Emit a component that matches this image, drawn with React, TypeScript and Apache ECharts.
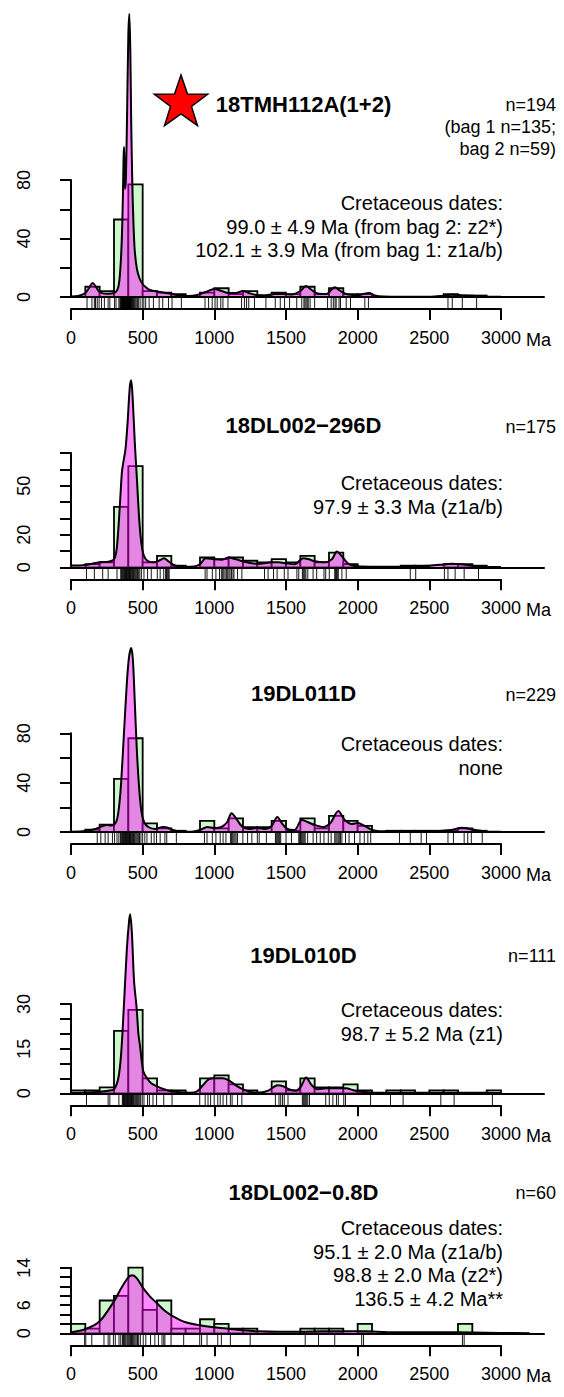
import React, { useEffect, useRef } from 'react';
import * as echarts from 'echarts';

// ---------------- DATA ----------------
const titles = ['18TMH112A(1+2)', '18DL002\u2212296D', '19DL011D', '19DL010D', '18DL002\u22120.8D'];
const nLabels = [['n=194', '(bag 1 n=135;', 'bag 2 n=59)'], ['n=175'], ['n=229'], ['n=111'], ['n=60']];
const cretaceous = [
  ['Cretaceous dates:', '99.0 \u00b1 4.9 Ma (from bag 2: z2*)', '102.1 \u00b1 3.9 Ma (from bag 1: z1a/b)'],
  ['Cretaceous dates:', '97.9 \u00b1 3.3 Ma (z1a/b)'],
  ['Cretaceous dates:', 'none'],
  ['Cretaceous dates:', '98.7 \u00b1 5.2 Ma (z1)'],
  ['Cretaceous dates:', '95.1 \u00b1 2.0 Ma (z1a/b)', '98.8 \u00b1 2.0 Ma (z2*)', '136.5 \u00b1 4.2 Ma**'],
];
const xTickLabels = ['0', '500', '1000', '1500', '2000', '2500', '3000'];
const yAxisMax = [80, 70, 80, 30, 14];
const yTickStep = [20, 10, 20, 5, 2];
const yLabels = [[0, 40, 80], [0, 20, 50], [0, 40, 80], [0, 15, 30], [0, 6, 14]];

// histogram counts per 100 Ma bin, starting at 0 Ma
const hist1 = [0, 7, 4, 53, 77, 4, 3, 2, 0, 3, 6, 2, 4, 1, 3, 2, 7, 2, 6, 2, 2, 0, 0, 0, 0, 0, 2, 1, 1];
const hist2 = [0, 2, 3, 37, 62, 3, 7, 1, 0, 6, 5, 6, 4, 3, 5, 3, 7, 3, 9, 2, 0, 0, 0, 1, 1, 0, 2, 2, 1];
const hist3 = [0, 2, 6, 43, 76, 7, 3, 1, 0, 9, 3, 11, 4, 4, 9, 1, 11, 3, 13, 9, 5, 0, 1, 1, 1, 1, 1, 3, 1];
const hist4 = [1, 1, 2, 21, 28, 5, 1, 1, 0, 5, 6, 3, 1, 0, 4, 1, 5, 2, 2, 3, 1, 0, 1, 1, 0, 1, 1, 0, 0, 1];
const hist5 = [2, 1, 7, 8, 14, 5, 7, 1, 1, 3, 2, 1, 1, 0, 0, 0, 1, 1, 1, 0, 2, 0, 0, 0, 0, 0, 0, 2];

// kernel density estimates: [age Ma, relative density]
const kde1 = [[0, 0.5], [50, 1], [100, 4], [130, 10], [150, 14], [175, 10], [200, 5], [250, 3.3], [300, 4], [330, 10], [345, 30], [355, 60], [362, 100], [367, 140], [370, 150], [373, 130], [377, 108], [383, 118], [392, 190], [400, 262], [407, 283], [414, 245], [420, 175], [428, 112], [436, 72], [445, 46], [460, 28], [480, 18], [500, 13], [520, 10], [550, 7], [620, 5], [700, 3], [760, 1.5], [820, 1], [880, 2], [940, 5], [1000, 8], [1050, 6], [1100, 4], [1150, 4], [1200, 6], [1240, 4], [1290, 2], [1350, 1.5], [1420, 3], [1480, 3], [1540, 2.5], [1600, 6], [1640, 11], [1680, 7], [1720, 3.5], [1780, 3], [1840, 9.7], [1880, 6], [1920, 3], [1960, 2], [2000, 1.5], [2040, 3], [2080, 4], [2120, 1.5], [2180, 0.5], [2300, 0.3], [2500, 0.3], [2580, 1], [2650, 2.3], [2720, 1.8], [2800, 1], [2880, 0.5], [3000, 0.2]];
const kde2 = [[0, 1.7], [100, 2.3], [200, 5], [260, 5.5], [300, 8], [320, 20], [340, 60], [355, 95], [365, 105], [380, 118], [395, 145], [410, 180], [420, 187], [430, 170], [445, 125], [460, 88], [475, 50], [490, 25], [510, 11], [540, 6], [580, 5], [620, 7], [650, 9], [680, 6], [710, 3], [750, 1], [800, 0.5], [860, 0.8], [900, 3], [940, 9], [1000, 8], [1050, 7.5], [1100, 9.7], [1150, 8], [1200, 6], [1260, 4], [1320, 3.5], [1400, 5], [1450, 5], [1500, 4], [1560, 3], [1620, 9], [1660, 8], [1700, 6], [1770, 5], [1820, 8], [1855, 15.7], [1890, 11], [1930, 4], [1970, 1.5], [2020, 0.7], [2200, 0.5], [2400, 0.7], [2500, 1.5], [2600, 2.8], [2650, 3.5], [2720, 3], [2800, 1.5], [2880, 0.6], [3000, 0.2]];
const kde3 = [[0, 0.3], [100, 1], [170, 3], [220, 6], [250, 7], [280, 6.5], [300, 7], [320, 12], [335, 25], [350, 50], [370, 100], [390, 150], [405, 175], [420, 184], [432, 172], [445, 130], [460, 80], [475, 45], [490, 22], [510, 10], [540, 5], [590, 3], [640, 5], [670, 4.5], [710, 2], [760, 0.5], [840, 0.3], [900, 2], [950, 5], [1000, 4], [1050, 5], [1090, 10], [1120, 18.7], [1150, 14], [1190, 6], [1240, 3], [1300, 4], [1360, 3], [1400, 6], [1440, 15], [1470, 9], [1510, 3], [1560, 2], [1610, 12], [1650, 10], [1700, 7], [1760, 5], [1810, 9], [1865, 21], [1910, 12], [1960, 8], [2000, 9], [2050, 6], [2100, 2], [2150, 0.8], [2300, 0.8], [2500, 0.8], [2650, 2], [2730, 4.3], [2800, 2.5], [2880, 0.6], [3000, 0.2]];
const kde4 = [[0, 0.5], [100, 0.7], [200, 1.5], [260, 2.5], [300, 4], [330, 15], [350, 40], [370, 90], [390, 145], [405, 172], [413, 179], [425, 160], [440, 112], [458, 85], [470, 60], [482, 47], [504, 22], [530, 15], [560, 10], [600, 7], [650, 4], [700, 2], [760, 1], [830, 0.5], [880, 2], [920, 8], [960, 14], [1000, 15], [1060, 15], [1100, 13], [1150, 8], [1200, 4], [1260, 1], [1320, 0.8], [1380, 3], [1440, 8], [1480, 7], [1530, 3.5], [1570, 2.5], [1605, 7], [1640, 15.7], [1680, 8], [1720, 4], [1780, 5], [1850, 5], [1920, 5], [1970, 3], [2030, 1.5], [2100, 0.7], [2300, 0.6], [2500, 0.6], [2700, 0.5], [2900, 0.5], [3000, 0.2]];
const kde5 = [[0, 1], [100, 4], [200, 12], [300, 32], [350, 45], [400, 56], [428, 58], [460, 55], [500, 46], [550, 37], [600, 30], [650, 23], [700, 18], [800, 11], [900, 8], [1000, 6], [1100, 4.5], [1200, 3], [1300, 2], [1450, 1.5], [1600, 1.5], [1750, 2], [1900, 2], [2050, 2], [2200, 1.3], [2400, 1], [2600, 1], [2800, 0.8], [3000, 0.4], [3200, 0]];

// individual dates (rug)
const rug1 = [112, 146, 163, 171, 183, 196, 213, 233, 259, 271, 304, 314, 334, 341, 346, 350, 353, 356, 359, 362, 364, 366, 368, 370, 372, 374, 377, 380, 383, 386, 389, 392, 394, 396, 398, 400, 402, 404, 406, 408, 410, 412, 415, 418, 421, 424, 428, 432, 437, 442, 448, 455, 463, 470, 482, 497, 508, 521, 545, 575, 615, 640, 680, 705, 770, 935, 960, 985, 1005, 1020, 1045, 1060, 1095, 1190, 1210, 1225, 1240, 1280, 1360, 1425, 1460, 1490, 1525, 1575, 1610, 1625, 1632, 1640, 1648, 1655, 1668, 1700, 1790, 1815, 1830, 1842, 1850, 1870, 1880, 1920, 1950, 2050, 2075, 2630, 2660, 2730, 2830];
const rug2 = [108, 163, 221, 259, 321, 347, 352, 358, 363, 368, 372, 376, 380, 384, 388, 392, 396, 400, 404, 408, 412, 416, 420, 425, 430, 436, 442, 449, 456, 464, 472, 480, 491, 509, 534, 560, 602, 622, 647, 660, 666, 672, 679, 685, 936, 949, 986, 1011, 1036, 1049, 1058, 1066, 1075, 1084, 1093, 1102, 1110, 1120, 1130, 1137, 1162, 1192, 1350, 1375, 1413, 1438, 1488, 1514, 1576, 1589, 1614, 1620, 1626, 1632, 1639, 1652, 1689, 1714, 1765, 1777, 1802, 1840, 1846, 1852, 1858, 1865, 1890, 1920, 2367, 2405, 2605, 2630, 2680, 2743, 2843];
const rug3 = [183, 208, 238, 259, 289, 304, 321, 334, 345, 350, 355, 360, 364, 368, 372, 376, 380, 384, 388, 392, 396, 400, 404, 408, 412, 416, 420, 425, 430, 436, 442, 448, 455, 462, 470, 478, 488, 500, 515, 530, 560, 580, 597, 622, 655, 668, 735, 931, 949, 986, 1011, 1041, 1061, 1081, 1112, 1120, 1128, 1136, 1144, 1152, 1162, 1199, 1232, 1262, 1300, 1313, 1363, 1426, 1432, 1438, 1444, 1450, 1456, 1463, 1500, 1538, 1589, 1595, 1601, 1607, 1613, 1620, 1627, 1634, 1651, 1689, 1714, 1739, 1765, 1795, 1815, 1840, 1848, 1856, 1864, 1872, 1880, 1890, 1915, 1940, 1978, 2016, 2046, 2071, 2091, 2292, 2367, 2443, 2480, 2630, 2668, 2743, 2768, 2793, 2869];
const rug4 = [108, 259, 271, 334, 358, 362, 366, 370, 374, 378, 382, 386, 390, 394, 398, 402, 406, 410, 414, 418, 422, 426, 430, 435, 440, 446, 452, 458, 465, 472, 480, 486, 497, 509, 534, 547, 572, 597, 647, 705, 898, 936, 956, 974, 999, 1024, 1041, 1061, 1086, 1112, 1124, 1162, 1192, 1426, 1451, 1463, 1476, 1488, 1514, 1614, 1620, 1626, 1632, 1638, 1645, 1652, 1664, 1777, 1802, 1827, 1852, 1865, 1903, 1915, 2090, 2229, 2317, 2580, 2673, 2940];
const rug5 = [95, 103, 145, 230, 259, 271, 296, 309, 335, 347, 359, 366, 372, 378, 384, 392, 398, 404, 410, 416, 422, 428, 434, 440, 447, 455, 464, 472, 484, 504, 522, 555, 585, 610, 635, 647, 655, 698, 786, 898, 911, 949, 1024, 1049, 1112, 1250, 1634, 1727, 1840, 2028, 2041, 2731, 2743];

const hists = [hist1, hist2, hist3, hist4, hist5];
const kdes = [kde1, kde2, kde3, kde4, kde5];
const rugs = [rug1, rug2, rug3, rug4, rug5];

// ---------------- LAYOUT / STYLE ----------------
const FONT = '"Liberation Sans", Arial, Helvetica, sans-serif';
const X0 = 71;
const PX_PER_MA = 430 / 3000;
const PLOT_MAX = 3300;
const AXIS_MAX = 3000;
const BIN = 100;
const baselineY = [297, 567.3, 832, 1093.3, 1333.3];
const axisTopY = [180, 453, 733.3, 1004, 1267.7];
const RUG_H = 12;
const titleY = [104, 425, 693, 955, 1192];
const nY = [105, 427, 695, 956, 1193];
const cretY = [203, 483, 744, 1010, 1228];
const CRET_GAP = 23.7;
const GREEN = '#ccf8cc';
const KDE_FILL = 'rgba(255,0,255,0.65)';

function buildOption() {
  const grid: any[] = [];
  const xAxis: any[] = [];
  const yAxis: any[] = [];
  const series: any[] = [];
  const graphic: any[] = [];

  for (let i = 0; i < 5; i++) {
    const h = baselineY[i] - axisTopY[i];
    grid.push({ left: X0, top: axisTopY[i], width: PLOT_MAX * PX_PER_MA, height: h, containLabel: false });
    grid.push({ left: X0, top: baselineY[i], width: AXIS_MAX * PX_PER_MA, height: RUG_H, containLabel: false });

    xAxis.push({
      gridIndex: 2 * i, type: 'value', min: 0, max: PLOT_MAX, z: 6,
      axisLine: { show: true, lineStyle: { color: '#000', width: 2 } },
      axisTick: { show: false }, axisLabel: { show: false }, splitLine: { show: false },
    });
    xAxis.push({
      gridIndex: 2 * i + 1, type: 'value', min: 0, max: AXIS_MAX, interval: 500,
      axisLine: { show: true, lineStyle: { color: '#000', width: 2 } },
      axisTick: { show: true, length: 11, lineStyle: { color: '#000', width: 2 } },
      axisLabel: {
        show: true, margin: 20, fontSize: 18, fontFamily: FONT, color: '#000',
        formatter: (v: number) => xTickLabels[Math.round(v / 500)] ?? '',
      },
      splitLine: { show: false },
    });

    const labs = yLabels[i];
    yAxis.push({
      gridIndex: 2 * i, type: 'value', min: 0, max: yAxisMax[i], interval: yTickStep[i], offset: 18,
      axisLine: { show: true, lineStyle: { color: '#000', width: 2 } },
      axisTick: { show: true, length: 11, lineStyle: { color: '#000', width: 2 } },
      axisLabel: {
        show: true, rotate: 90, margin: 20, fontSize: 18, fontFamily: FONT, color: '#000', interval: 0,
        formatter: (v: number) => (labs.indexOf(v) >= 0 ? String(v) : ''),
      },
      splitLine: { show: false },
    });
    yAxis.push({ gridIndex: 2 * i, type: 'value', min: 0, max: h, show: false, splitLine: { show: false } });
    yAxis.push({ gridIndex: 2 * i + 1, type: 'value', min: 0, max: 1, show: false, splitLine: { show: false } });

    const histData = hists[i]
      .map((c, k) => [k * BIN, (k + 1) * BIN, c])
      .filter((d) => d[2] > 0);
    series.push({
      type: 'custom', xAxisIndex: 2 * i, yAxisIndex: 3 * i, z: 2, silent: true,
      encode: { x: [0, 1], y: 2 },
      data: histData,
      renderItem: (params: any, api: any) => {
        const p0 = api.coord([api.value(0), 0]);
        const p1 = api.coord([api.value(1), api.value(2)]);
        return {
          type: 'rect',
          shape: { x: p0[0], y: p1[1], width: p1[0] - p0[0], height: p0[1] - p1[1] },
          style: { fill: GREEN, stroke: '#000', lineWidth: 1.8 },
        };
      },
    });
    series.push({
      type: 'line', xAxisIndex: 2 * i, yAxisIndex: 3 * i + 1, z: 3, silent: true, clip: false,
      data: kdes[i], showSymbol: false, symbol: 'none', smooth: 0.3,
      lineStyle: { color: '#000', width: 2 },
      areaStyle: { color: KDE_FILL, origin: 'start' },
    });
    series.push({
      type: 'scatter', xAxisIndex: 2 * i + 1, yAxisIndex: 3 * i + 2, z: 3, silent: true,
      data: rugs[i].map((v) => [v, 0.5]),
      symbol: 'rect', symbolSize: [1, RUG_H], itemStyle: { color: '#000', opacity: 0.9 },
    });

    // texts
    graphic.push({
      type: 'text', x: 303.5, y: titleY[i],
      style: { text: titles[i], fontSize: 22, fontWeight: 'bold', fontFamily: FONT, fill: '#000', textAlign: 'center', textVerticalAlign: 'middle' },
    });
    nLabels[i].forEach((t, j) => {
      graphic.push({
        type: 'text', x: 556, y: nY[i] + j * 22,
        style: { text: t, fontSize: 18, fontFamily: FONT, fill: '#000', textAlign: 'right', textVerticalAlign: 'middle' },
      });
    });
    cretaceous[i].forEach((t, j) => {
      graphic.push({
        type: 'text', x: 503, y: cretY[i] + j * CRET_GAP,
        style: { text: t, fontSize: 20, fontFamily: FONT, fill: '#000', textAlign: 'right', textVerticalAlign: 'middle' },
      });
    });
    graphic.push({
      type: 'text', x: X0 + AXIS_MAX * PX_PER_MA + 25, y: baselineY[i] + RUG_H + 31,
      style: { text: 'Ma', fontSize: 18, fontFamily: FONT, fill: '#000', textAlign: 'left', textVerticalAlign: 'middle' },
    });
  }

  // red star
  const cx = 181, cy = 103, R = 28, r = 11;
  const pts: number[][] = [];
  for (let k = 0; k < 10; k++) {
    const a = -Math.PI / 2 + (k * Math.PI) / 5;
    const rad = k % 2 === 0 ? R : r;
    pts.push([cx + rad * Math.cos(a), cy + rad * Math.sin(a)]);
  }
  graphic.push({ type: 'polygon', shape: { points: pts }, style: { fill: '#ff0000', stroke: '#000', lineWidth: 1.5 }, z: 10 });

  return { animation: false, backgroundColor: '#fff', grid, xAxis, yAxis, series, graphic };
}

export default function App() {
  const ref = useRef<HTMLDivElement>(null);
  useEffect(() => {
    document.body.style.margin = '0';
    const chart = echarts.init(ref.current!, undefined, { renderer: 'svg' });
    chart.setOption(buildOption() as any);
    return () => chart.dispose();
  }, []);
  return <div ref={ref} style={{ width: 564, height: 1397 }} />;
}
